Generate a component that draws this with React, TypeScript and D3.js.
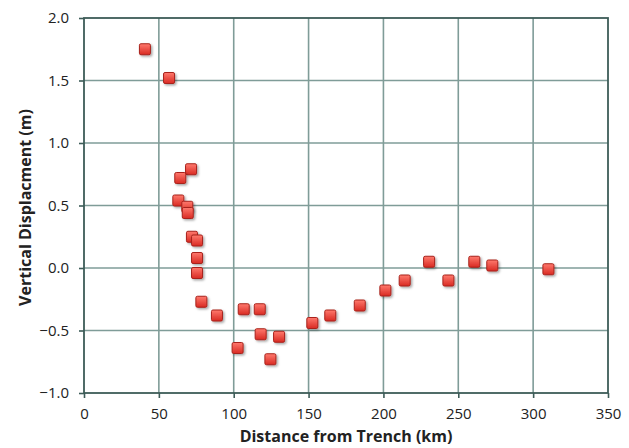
import * as d3 from "d3"
import { useRef, useEffect } from "react"

// distance from trench (km) and vertical displacement (m)
const distance = [
  40.7, 56.8, 71.5, 64.3, 63, 69, 69.3, 72.1, 75.5, 75.5, 75.5, 78.4, 88.8,
  106.7, 117.4, 118, 130.3, 102.6, 124.5, 152.5, 164.5, 184.2, 201.3, 214.2,
  230.5, 243.4, 260.7, 272.7, 310.2,
]
const displacement = [
  1.75, 1.52, 0.79, 0.72, 0.54, 0.49, 0.44, 0.25, 0.22, 0.08, -0.04, -0.27,
  -0.38, -0.33, -0.33, -0.53, -0.55, -0.64, -0.73, -0.44, -0.38, -0.3, -0.18,
  -0.1, 0.05, -0.1, 0.05, 0.02, -0.01,
]
const xTicks = [0, 50, 100, 150, 200, 250, 300, 350]
const yTicks = [-1.0, -0.5, 0.0, 0.5, 1.0, 1.5, 2.0]

const App = () => {
  const svgRef = useRef<SVGSVGElement>(null)
  const width = 629
  const height = 448
  const left = 84
  const right = 608
  const top = 18
  const bottom = 393

  useEffect(() => {
    const svg = d3.select(svgRef.current)
    svg.selectAll("*").remove()

    const defs = svg.append("defs")
    const grad = defs
      .append("linearGradient")
      .attr("id", "mk")
      .attr("x1", "0")
      .attr("y1", "0")
      .attr("x2", "0")
      .attr("y2", "1")
    grad.append("stop").attr("offset", "0%").attr("stop-color", "#ff7a6e")
    grad.append("stop").attr("offset", "100%").attr("stop-color", "#d92a22")
    const f = defs
      .append("filter")
      .attr("id", "sh")
      .attr("x", "-50%")
      .attr("y", "-50%")
      .attr("width", "200%")
      .attr("height", "200%")
    f.append("feDropShadow")
      .attr("dx", 1.5)
      .attr("dy", 1.5)
      .attr("stdDeviation", 1)
      .attr("flood-color", "#000")
      .attr("flood-opacity", 0.35)

    const x = d3.scaleLinear().domain([0, 350]).range([left, right])
    const y = d3.scaleLinear().domain([-1, 2]).range([bottom, top])

    // grid
    svg
      .append("g")
      .selectAll("line")
      .data(xTicks.slice(1, -1))
      .join("line")
      .attr("x1", (d) => x(d))
      .attr("x2", (d) => x(d))
      .attr("y1", top)
      .attr("y2", bottom)
      .attr("stroke", "#7f9c98")
      .attr("stroke-width", 1.6)
    svg
      .append("g")
      .selectAll("line")
      .data(yTicks.slice(1, -1))
      .join("line")
      .attr("x1", left)
      .attr("x2", right)
      .attr("y1", (d) => y(d))
      .attr("y2", (d) => y(d))
      .attr("stroke", "#7f9c98")
      .attr("stroke-width", 1.6)

    // frame
    svg
      .append("rect")
      .attr("x", left)
      .attr("y", top)
      .attr("width", right - left)
      .attr("height", bottom - top)
      .attr("fill", "none")
      .attr("stroke", "#3d5c58")
      .attr("stroke-width", 1.8)

    // axes
    const xAxis = svg
      .append("g")
      .attr("transform", `translate(0, ${bottom})`)
      .call(
        d3
          .axisBottom(x)
          .tickValues(xTicks)
          .tickSize(5)
          .tickFormat(d3.format("d"))
      )
    const yAxis = svg
      .append("g")
      .attr("transform", `translate(${left}, 0)`)
      .call(
        d3
          .axisLeft(y)
          .tickValues(yTicks)
          .tickSize(5)
          .tickFormat(d3.format(".1f"))
      )
    for (const a of [xAxis, yAxis]) {
      a.select(".domain").remove()
      a.selectAll("line").attr("stroke", "#3d5c58").attr("stroke-width", 1.6)
      a.selectAll("text")
        .attr("font-family", "Open Sans, sans-serif")
        .attr("font-size", 15)
        .attr("fill", "#222")
    }
    xAxis.selectAll("text").attr("y", 15)
    yAxis.selectAll("text").attr("x", -15)

    // titles
    svg
      .append("text")
      .attr("x", (left + right) / 2)
      .attr("y", 442)
      .attr("text-anchor", "middle")
      .attr("font-family", "Open Sans, sans-serif")
      .attr("font-weight", "bold")
      .attr("font-size", 16)
      .attr("fill", "#222")
      .text("Distance from Trench (km)")
    svg
      .append("text")
      .attr("transform", `translate(31, ${(top + bottom) / 2 + 2}) rotate(-90)`)
      .attr("text-anchor", "middle")
      .attr("font-family", "Open Sans, sans-serif")
      .attr("font-weight", "bold")
      .attr("font-size", 16)
      .attr("fill", "#222")
      .text("Vertical Displacment (m)")

    // markers
    const s = 11
    svg
      .append("g")
      .selectAll("rect")
      .data(distance.map((d, i) => [d, displacement[i]]))
      .join("rect")
      .attr("x", (d) => x(d[0]) - s / 2)
      .attr("y", (d) => y(d[1]) - s / 2)
      .attr("width", s)
      .attr("height", s)
      .attr("rx", 1.5)
      .attr("fill", "url(#mk)")
      .attr("stroke", "#a8231c")
      .attr("stroke-width", 1)
      .attr("filter", "url(#sh)")
  }, [])

  return (
    <svg
      ref={svgRef}
      width={width}
      height={height}
      style={{ position: "absolute", left: 0, top: 0, background: "#fff" }}
    ></svg>
  )
}

export default App
